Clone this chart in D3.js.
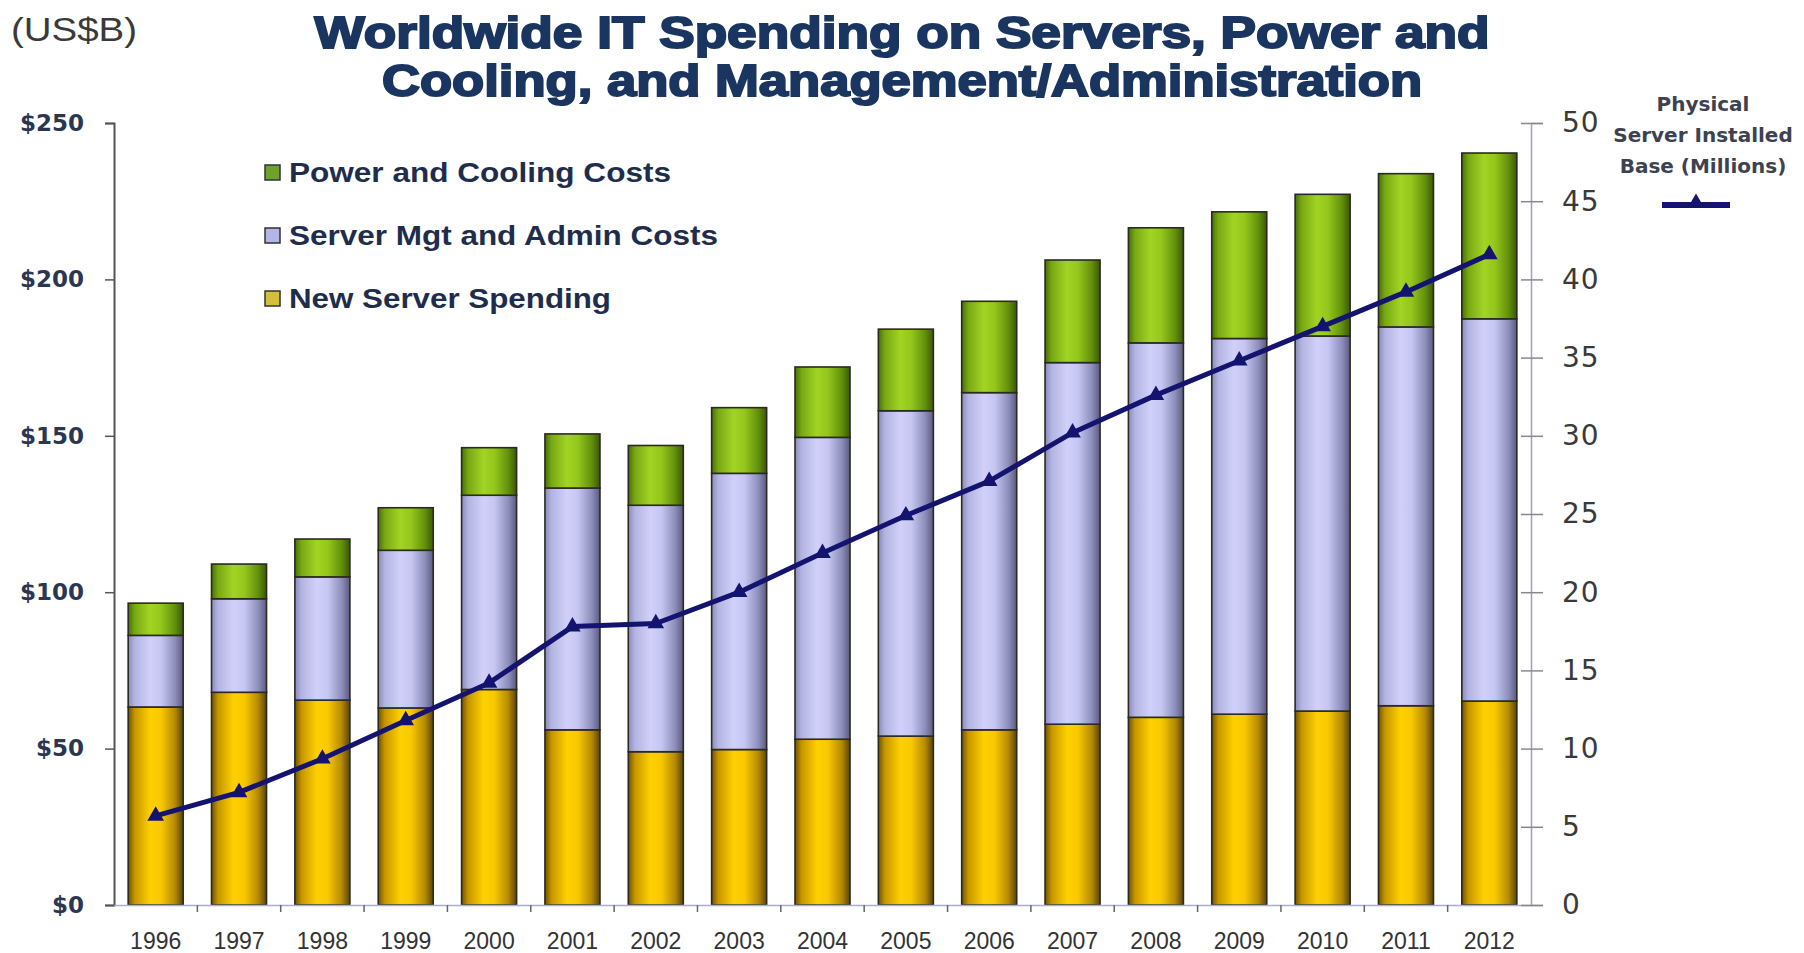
<!DOCTYPE html>
<html>
<head>
<meta charset="utf-8">
<script src="https://cdn.jsdelivr.net/npm/d3@7"></script>
<style>
  html, body { margin: 0; padding: 0; background: #ffffff; }
  svg { display: block; }
</style>
</head>
<body>
<svg id="chart" width="1804" height="953"></svg>
<script>
const years = ["1996","1997","1998","1999","2000","2001","2002","2003","2004","2005","2006","2007","2008","2009","2010","2011","2012"];
const newServerSpending = [63.3, 68.0, 65.5, 63.0, 68.9, 56.0, 49.0, 49.7, 53.0, 54.0, 56.0, 57.8, 60.0, 61.0, 62.0, 63.7, 65.2];
const mgtAdminCosts     = [22.9, 29.9, 39.4, 50.4, 62.1, 77.3, 78.8, 88.3, 96.5, 104.0, 107.8, 115.6, 119.7, 120.1, 119.9, 121.1, 122.2];
const powerCoolingCosts = [10.3, 11.1, 12.1, 13.6, 15.2, 17.3, 19.1, 21.0, 22.5, 26.1, 29.2, 32.8, 36.8, 40.5, 45.3, 49.0, 53.0];
const installedBase     = [5.7, 7.2, 9.35, 11.8, 14.2, 17.8, 18.0, 20.0, 22.5, 24.9, 27.1, 30.2, 32.6, 34.8, 37.0, 39.2, 41.6];
const leftTicks  = [0, 50, 100, 150, 200, 250];
const rightTicks = [0, 5, 10, 15, 20, 25, 30, 35, 40, 45, 50];
const seriesNames = ["New Server Spending", "Server Mgt and Admin Costs", "Power and Cooling Costs"];
const titleLines = ["Worldwide IT Spending on Servers, Power and", "Cooling, and Management/Administration"];
const unitLabel = "(US$B)";
const lineLegend = ["Physical", "Server Installed", "Base (Millions)"];

const svg = d3.select("#chart");
const X0 = 114, X1 = 1531, Y0 = 905, Y1 = 123;

const x = d3.scaleBand().domain(years).range([X0, X1]).paddingInner(0.34).paddingOuter(0.17);
const yL = d3.scaleLinear().domain([0, 250]).range([Y0, Y1]);
const yR = d3.scaleLinear().domain([0, 50]).range([Y0, Y1]);

// gradients
const defs = svg.append("defs");
function grad(id, stops) {
  const g = defs.append("linearGradient").attr("id", id).attr("x1", "0%").attr("x2", "100%").attr("y1", "0%").attr("y2", "0%");
  stops.forEach(s => g.append("stop").attr("offset", s[0]).attr("stop-color", s[1]));
}
grad("gYellow", [["0%", "#6e5200"], ["12%", "#c69600"], ["40%", "#ffd000"], ["60%", "#f9c800"], ["85%", "#b58a00"], ["100%", "#5a4400"]]);
grad("gLav",    [["0%", "#8a8ab8"], ["12%", "#b4b4e2"], ["40%", "#d0d0fa"], ["60%", "#c6c6f2"], ["85%", "#8e8ebc"], ["100%", "#5a5a80"]]);
grad("gGreen",  [["0%", "#4a6e08"], ["12%", "#78a814"], ["40%", "#a2d424"], ["60%", "#94c61c"], ["85%", "#62900c"], ["100%", "#3a5806"]]);
const fills = ["url(#gYellow)", "url(#gLav)", "url(#gGreen)"];
const legendColors = ["#d4bf3a", "#b4b4e6", "#6fa22c"];

// stacked data
const rows = years.map((yr, i) => ({ year: yr, a: newServerSpending[i], b: mgtAdminCosts[i], c: powerCoolingCosts[i] }));
const stack = d3.stack().keys(["a", "b", "c"])(rows);

// title
const titleColor = "#1a355f";
svg.append("text").attr("x", 11).attr("y", 41).attr("font-family", "Liberation Sans, Arial, sans-serif")
  .attr("font-size", 33).attr("fill", "#3a3a3a")
  .attr("textLength", 126).attr("lengthAdjust", "spacingAndGlyphs").text(unitLabel);
const tWidths = [1175, 1040];
titleLines.forEach((t, i) => {
  svg.append("text").attr("x", 902).attr("y", 48 + i * 48).attr("text-anchor", "middle")
    .attr("font-family", "Liberation Sans, Arial, sans-serif").attr("font-weight", "bold")
    .attr("font-size", 44).attr("fill", titleColor).attr("stroke", titleColor).attr("stroke-width", 2)
    .attr("textLength", tWidths[i]).attr("lengthAdjust", "spacingAndGlyphs").text(t);
});

// bars
const gBars = svg.append("g");
stack.forEach((layer, li) => {
  gBars.selectAll(null).data(layer).enter().append("rect")
    .attr("x", d => x(d.data.year))
    .attr("width", x.bandwidth())
    .attr("y", d => yL(d[1]))
    .attr("height", d => yL(d[0]) - yL(d[1]))
    .attr("fill", fills[li])
    .attr("stroke", "#2a2a22").attr("stroke-width", 1.6);
});

// left axis
const axL = svg.append("g").attr("transform", `translate(${X0},0)`)
  .call(d3.axisLeft(yL).tickValues(leftTicks).tickSize(9).tickPadding(21).tickFormat(d => "$" + d));
axL.select(".domain").attr("stroke", "#555").attr("stroke-width", 2);
axL.selectAll(".tick line").attr("stroke", "#555").attr("stroke-width", 1.5);
axL.selectAll(".tick text").attr("font-family", "DejaVu Sans, Verdana, sans-serif").attr("font-weight", "bold")
  .attr("font-size", 23).attr("fill", "#2b3750");

// bottom axis
const axB = svg.append("g").attr("transform", `translate(0,${Y0})`)
  .call(d3.axisBottom(x).tickSize(0).tickPadding(28));
axB.select(".domain").attr("stroke", "#aab0cc").attr("stroke-width", 1.5);
axB.selectAll(".tick text").attr("font-family", "Liberation Sans, Arial, sans-serif")
  .attr("font-size", 23).attr("fill", "#333");
const step = x.step();
svg.append("g").selectAll(null).data(d3.range(1, years.length)).enter().append("line")
  .attr("x1", i => X0 + i * step).attr("x2", i => X0 + i * step)
  .attr("y1", Y0).attr("y2", Y0 + 7).attr("stroke", "#666").attr("stroke-width", 1.5);

// right axis
const axR = svg.append("g").attr("transform", `translate(${X1},0)`)
  .call(d3.axisRight(yR).tickValues(rightTicks).tickSize(12).tickPadding(19));
axR.select(".domain").attr("stroke", "#9aa0c0").attr("stroke-width", 1.5);
axR.selectAll(".tick line").attr("x1", -10).attr("stroke", "#888").attr("stroke-width", 1.5);
axR.selectAll(".tick text").attr("font-family", "DejaVu Sans, Verdana, sans-serif")
  .attr("font-size", 28).attr("letter-spacing", 1).attr("fill", "#3a3a3a");

// line
const lineColor = "#141470";
const pts = years.map((yr, i) => [x(yr) + x.bandwidth() / 2, yR(installedBase[i])]);
svg.append("path").attr("d", d3.line()(pts)).attr("fill", "none")
  .attr("stroke", lineColor).attr("stroke-width", 5).attr("stroke-linejoin", "round");
const tri = d3.symbol().type(d3.symbolTriangle).size(120);
svg.append("g").selectAll(null).data(pts).enter().append("path")
  .attr("d", tri).attr("transform", d => `translate(${d[0]},${d[1]})`).attr("fill", lineColor);

// left legend
const legOrder = [2, 1, 0];
const legWidths = [322, 429, 382];
legOrder.forEach((si, k) => {
  const cy = 173 + k * 63;
  svg.append("rect").attr("x", 265).attr("y", cy - 8).attr("width", 15).attr("height", 15)
    .attr("fill", legendColors[si]).attr("stroke", "#333").attr("stroke-width", 1.5);
  svg.append("text").attr("x", 289).attr("y", cy).attr("dominant-baseline", "central")
    .attr("font-family", "Liberation Sans, Arial, sans-serif").attr("font-weight", "bold")
    .attr("font-size", 27).attr("fill", "#1f2d4d")
    .attr("textLength", legWidths[si]).attr("lengthAdjust", "spacingAndGlyphs").text(seriesNames[si]);
});

// right legend
lineLegend.forEach((t, i) => {
  svg.append("text").attr("x", 1703).attr("y", 104 + i * 31).attr("text-anchor", "middle")
    .attr("dominant-baseline", "central").attr("font-family", "DejaVu Sans, Verdana, sans-serif")
    .attr("font-weight", "bold").attr("font-size", 20).attr("fill", "#3c4250").text(t);
});
svg.append("line").attr("x1", 1662).attr("x2", 1730).attr("y1", 205).attr("y2", 205)
  .attr("stroke", lineColor).attr("stroke-width", 6);
svg.append("path").attr("d", tri).attr("transform", "translate(1696,203)").attr("fill", lineColor);
</script>
</body>
</html>
